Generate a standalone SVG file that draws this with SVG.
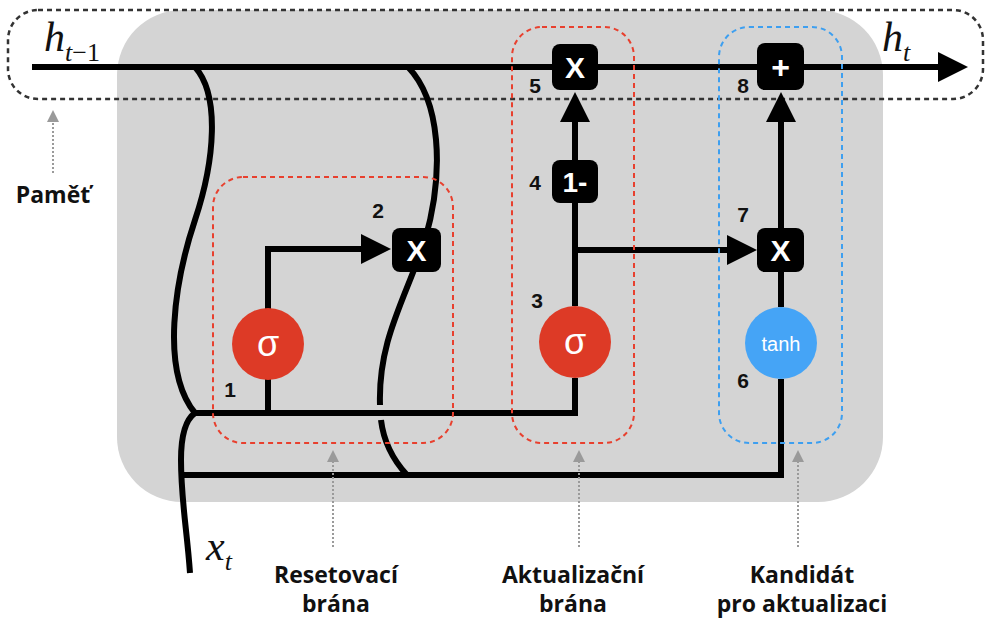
<svg xmlns="http://www.w3.org/2000/svg" width="985" height="618" viewBox="0 0 985 618">
  <style>
    .wire { fill: none; stroke: #000; stroke-width: 6; stroke-linejoin: miter; }
    .arrow { marker-end: url(#head); }
    .hint { fill: none; stroke: #9a9a9a; stroke-width: 2; stroke-dasharray: 2 2; marker-end: url(#hinthead); }
    .gate-red { fill: none; stroke: #e8402e; stroke-width: 2; stroke-dasharray: 5 4; }
    .gate-blue { fill: none; stroke: #3d9ff0; stroke-width: 2; stroke-dasharray: 5 4; }
    .memory { fill: none; stroke: #333; stroke-width: 2.5; stroke-dasharray: 5 4; }
    .op rect { fill: #000; }
    .op text { fill: #fff; font-family: "Liberation Sans", Arial, sans-serif; font-weight: bold; text-anchor: middle; }
    .num { font-family: "Liberation Sans", Arial, sans-serif; font-weight: bold; font-size: 21px; fill: #111; text-anchor: middle; }
    .math { font-family: "Liberation Serif", "Times New Roman", serif; font-style: italic; fill: #111; }
    .upright { font-style: normal; }
    .caption { font-family: "Open Sans", "Noto Sans", sans-serif; font-weight: bold; font-size: 23px; fill: #111; text-anchor: middle; }
    .act text { fill: #fff; font-family: "Liberation Sans", Arial, sans-serif; text-anchor: middle; }
  </style>
  <defs>
    <marker id="head" markerUnits="userSpaceOnUse" markerWidth="30" markerHeight="30" refX="8" refY="15" orient="auto">
      <path d="M0,0 L30,15 L0,30 Z" fill="#000"/>
    </marker>
    <marker id="hinthead" markerUnits="userSpaceOnUse" markerWidth="12" markerHeight="12" refX="2" refY="6" orient="auto">
      <path d="M0,0 L12,6 L0,12 Z" fill="#9a9a9a"/>
    </marker>
  </defs>

  <!-- cell body -->
  <rect id="cell" x="117" y="10" width="766" height="492" rx="65" fill="#d4d4d4"/>

  <!-- memory lane -->
  <rect id="memory-lane" class="memory" x="8" y="10" width="975" height="89" rx="30"/>

  <!-- connectors -->
  <g id="connectors">
    <!-- h(t-1) to h(t) -->
    <path class="wire arrow" d="M32,67 H946"/>
    <!-- left branch from h(t-1) down to the junction -->
    <path class="wire" d="M195,67 C220,95 215,160 195,220 C175,280 160,370 195,413"/>
    <!-- x(t) input -->
    <path class="wire" d="M190,573 C187,530 181,500 181,460 C181,435 185,420 195,413"/>
    <!-- second branch through the reset multiply -->
    <path class="wire" d="M408,67 C440,100 445,170 425,240 C405,300 378,340 380,405"/>
    <path class="wire" d="M381,420 C384,445 395,462 407,475"/>
    <!-- reset gate -->
    <path class="wire arrow" d="M268,413 V249 H369"/>
    <!-- update gate -->
    <path class="wire" d="M195,413 H575 V378"/>
    <path class="wire" d="M575,306 V203"/>
    <path class="wire arrow" d="M575,160 V114"/>
    <path class="wire arrow" d="M575,250 H735"/>
    <!-- candidate -->
    <path class="wire" d="M181,475 H781 V379"/>
    <path class="wire" d="M781,307 V272"/>
    <path class="wire arrow" d="M781,228 V114"/>
    <!-- annotation pointers -->
    <path class="hint" d="M53,173 V120"/>
    <path class="hint" d="M333,547 V460"/>
    <path class="hint" d="M579,547 V460"/>
    <path class="hint" d="M798,547 V460"/>
  </g>

  <!-- gate outlines -->
  <rect id="reset-gate" class="gate-red" x="213" y="177" width="240" height="266" rx="30"/>
  <rect id="update-gate" class="gate-red" x="512" y="27" width="122" height="416" rx="30"/>
  <rect id="candidate-gate" class="gate-blue" x="719" y="27" width="123" height="416" rx="30"/>

  <!-- activations -->
  <g id="sigma-reset" class="act">
    <circle cx="268" cy="344" r="36" fill="#dd3a26"/>
    <text x="268" y="356" font-size="36">σ</text>
  </g>
  <g id="sigma-update" class="act">
    <circle cx="575" cy="342" r="36" fill="#dd3a26"/>
    <text x="575" y="354" font-size="36">σ</text>
  </g>
  <g id="tanh" class="act">
    <circle cx="781" cy="343" r="36" fill="#45a4f6"/>
    <text x="781" y="351" font-size="20">tanh</text>
  </g>

  <!-- pointwise operations -->
  <g id="op2" class="op">
    <rect x="392" y="228" width="49" height="44" rx="8"/>
    <text x="416.5" y="261" font-size="30">X</text>
  </g>
  <g id="op5" class="op">
    <rect x="552" y="44" width="46" height="46" rx="8"/>
    <text x="575" y="78" font-size="30">X</text>
  </g>
  <g id="op4" class="op">
    <rect x="552" y="160" width="46" height="43" rx="8"/>
    <text x="575" y="192" font-size="28">1-</text>
  </g>
  <g id="op7" class="op">
    <rect x="757" y="228" width="47" height="44" rx="8"/>
    <text x="780.5" y="261" font-size="30">X</text>
  </g>
  <g id="op8" class="op">
    <rect x="757" y="43" width="47" height="47" rx="8"/>
    <text x="780.5" y="78" font-size="32">+</text>
  </g>

  <!-- step numbers -->
  <g id="numbers">
    <text class="num" x="230" y="397">1</text>
    <text class="num" x="378" y="218">2</text>
    <text class="num" x="537" y="308">3</text>
    <text class="num" x="535" y="190">4</text>
    <text class="num" x="535" y="93">5</text>
    <text class="num" x="743" y="388">6</text>
    <text class="num" x="743" y="222">7</text>
    <text class="num" x="743" y="93">8</text>
  </g>

  <!-- state and input symbols -->
  <text class="math" x="44" y="51" font-size="42">h<tspan font-size="26" dy="10">t<tspan class="upright">−1</tspan></tspan></text>
  <text class="math" x="882" y="51" font-size="42">h<tspan font-size="26" dy="10">t</tspan></text>
  <text class="math" x="206" y="560" font-size="42">x<tspan font-size="26" dy="10">t</tspan></text>

  <!-- captions -->
  <text class="caption" x="53" y="203">Paměť</text>
  <text class="caption" x="336" y="583">Resetovací</text>
  <text class="caption" x="336" y="612">brána</text>
  <text class="caption" x="573" y="583">Aktualizační</text>
  <text class="caption" x="573" y="612">brána</text>
  <text class="caption" x="802" y="583">Kandidát</text>
  <text class="caption" x="802" y="612">pro aktualizaci</text>
</svg>
